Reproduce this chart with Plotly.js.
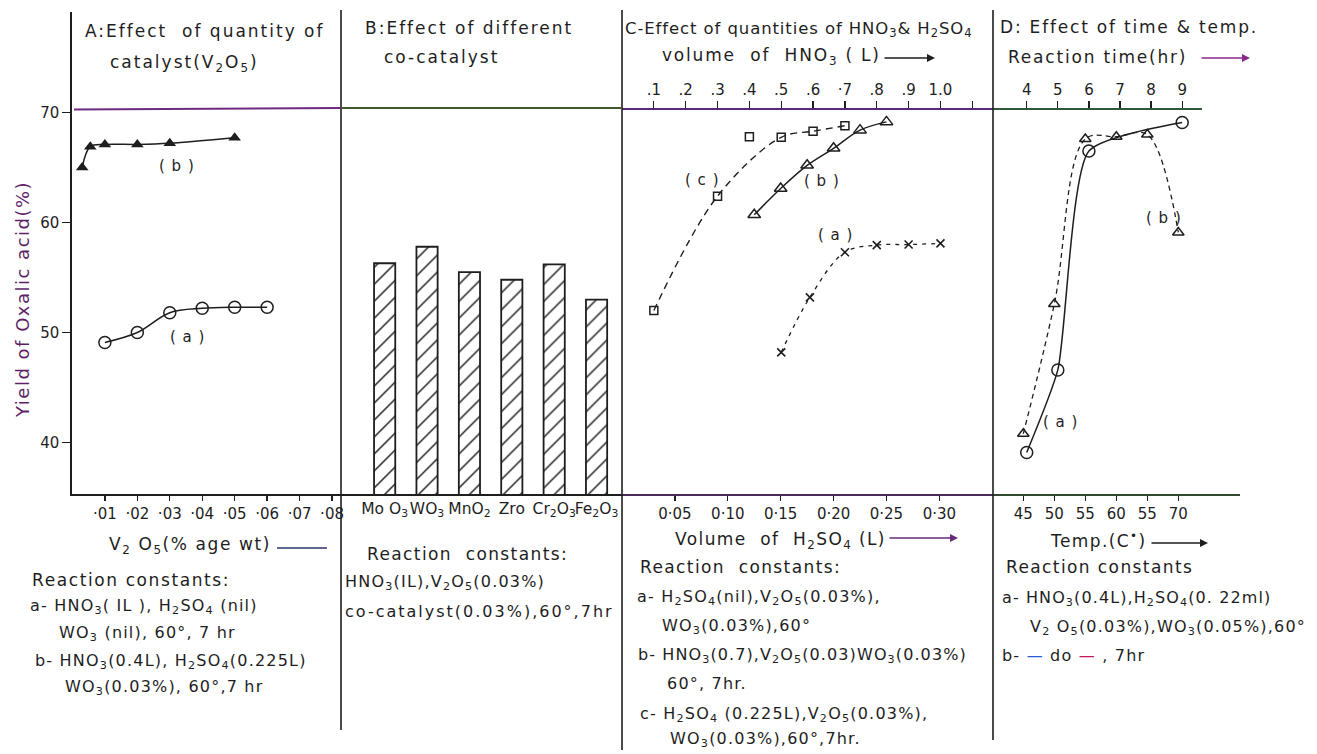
<!DOCTYPE html>
<html>
<head>
<meta charset="utf-8">
<script src="https://cdn.plot.ly/plotly-3.0.1.min.js"></script>
<style>html,body{margin:0;padding:0;background:#fff;}#chart{width:1317px;height:754px;}</style>
</head>
<body>
<div id="chart"></div>
<script>
// ---------- DATA ----------
// Panel A: effect of quantity of catalyst (V2O5, % age wt)
const aV2O5  = [0.01, 0.02, 0.03, 0.04, 0.05, 0.06];
const aYield = [49.1, 50.0, 51.8, 52.2, 52.3, 52.3];
const bV2O5  = [0.003, 0.0055, 0.01, 0.02, 0.03, 0.05];
const bYield = [65.0, 66.9, 67.1, 67.1, 67.2, 67.7];
const aTickVals = [0.01,0.02,0.03,0.04,0.05,0.06,0.07,0.08];
const aTickText = ['·01','·02','·03','·04','·05','·06','·07','·08'];

// Panel B: effect of different co-catalyst
const coCatalysts = ['Mo O<sub>3</sub>','WO<sub>3</sub>','MnO<sub>2</sub>','Zro','Cr<sub>2</sub>O<sub>3</sub>','Fe<sub>2</sub>O<sub>3</sub>'];
const coYield = [56.3, 57.8, 55.5, 54.8, 56.2, 53.0];

// Panel C: effect of quantities of HNO3 & H2SO4
const cHno3  = [0.1, 0.3, 0.4, 0.5, 0.6, 0.7];          // curve (c), vs HNO3
const cYield = [52.0, 62.4, 67.8, 67.75, 68.3, 68.8];
const cOutlierIndex = 2;                                 // point not on drawn fit
const cbH2so4 = [0.125, 0.15, 0.175, 0.20, 0.225, 0.25]; // curve (b), vs H2SO4
const cbYield = [60.7, 63.1, 65.2, 66.75, 68.4, 69.15];
const caHno3  = [0.5, 0.59, 0.7, 0.8, 0.9, 1.0];         // curve (a), vs HNO3
const caYield = [48.2, 53.2, 57.3, 57.95, 58.0, 58.1];
const hno3TickVals = [0.1,0.2,0.3,0.4,0.5,0.6,0.7,0.8,0.9,1.0,1.1];
const hno3TickText = ['.1','.2','.3','.4','.5','.6','·7','.8','.9','1.0',''];
const h2so4TickVals = [0.05,0.10,0.15,0.20,0.25,0.30];
const h2so4TickText = ['0·05','0·10','0·15','0·20','0·25','0·30'];

// Panel D: effect of time & temperature
const daTime  = [4, 5, 6, 9];                 // curve (a), vs reaction time
const daYield = [39.1, 46.6, 66.5, 69.1];
const dbTemp  = [45, 50, 55, 60, 65, 70];     // curve (b), vs temperature
const dbYield = [40.8, 52.6, 67.6, 67.8, 68.0, 59.1];
const timeTickVals = [4,5,6,7,8,9];
const timeTickText = ['4','5','6','7','8','9'];
const tempTickVals = [45,50,55,60,65,70];
const tempTickText = ['45','50','55','60','55','70'];

const yTickVals = [40,50,60,70];

// ---------- LAYOUT HELPERS ----------
const W = 1317, H = 754;
const px = x => x / W;
const py = y => 1 - y / H;
const INK = '#1e1e1e';
const FONT = 'DejaVu Sans';

const lineStyle = {color: INK, width: 1.5, shape: 'spline', smoothing: 1};

const traces = [
  // A
  {x: aV2O5, y: aYield, xaxis: 'x', yaxis: 'y', mode: 'lines+markers', line: lineStyle,
   marker: {symbol: 'circle-open', size: 12, color: INK, line: {width: 1.5, color: INK}}},
  {x: bV2O5, y: bYield, xaxis: 'x', yaxis: 'y', mode: 'lines+markers', line: lineStyle,
   marker: {symbol: 'triangle-up', size: 11, color: INK}},
  // B
  {type: 'bar', x: coCatalysts, y: coYield, xaxis: 'x2', yaxis: 'y', width: 0.5,
   marker: {color: 'white', line: {color: INK, width: 1.8},
            pattern: {shape: '/', fgcolor: INK, bgcolor: 'white', size: 12, solidity: 0.12}}},
  // C (c)
  {x: cHno3.filter((v,i) => i !== cOutlierIndex), y: cYield.filter((v,i) => i !== cOutlierIndex),
   xaxis: 'x5', yaxis: 'y', mode: 'lines',
   line: {color: INK, width: 1.4, dash: '7px,5px', shape: 'spline', smoothing: 1}},
  {x: cHno3, y: cYield, xaxis: 'x5', yaxis: 'y', mode: 'markers',
   marker: {symbol: 'square-open', size: 8, color: INK, line: {width: 1.5, color: INK}}},
  // C (b)
  {x: cbH2so4, y: cbYield, xaxis: 'x3', yaxis: 'y', mode: 'lines+markers', line: lineStyle,
   marker: {symbol: 'triangle-up-open', size: 11, color: INK, line: {width: 1.5, color: INK}}},
  // C (a)
  {x: caHno3, y: caYield, xaxis: 'x5', yaxis: 'y', mode: 'lines+markers',
   line: {color: INK, width: 1.3, dash: '4px,5px', shape: 'spline', smoothing: 1},
   marker: {symbol: 'x-thin', size: 8, color: INK, line: {width: 1.6, color: INK}}},
  // D (a)
  {x: daTime, y: daYield, xaxis: 'x6', yaxis: 'y', mode: 'lines+markers',
   line: {color: INK, width: 1.5, shape: 'spline', smoothing: 0.55},
   marker: {symbol: 'circle-open', size: 12, color: INK, line: {width: 1.5, color: INK}}},
  // D (b)
  {x: dbTemp, y: dbYield, xaxis: 'x4', yaxis: 'y', mode: 'lines+markers',
   line: {color: INK, width: 1.3, dash: '5px,4px', shape: 'spline', smoothing: 1},
   marker: {symbol: 'triangle-up-open', size: 10, color: INK, line: {width: 1.5, color: INK}}}
];

const baseAxis = {showgrid: false, zeroline: false, showline: true, linewidth: 1.6,
  linecolor: INK, ticks: 'outside', ticklen: 5, tickwidth: 1.3, tickcolor: INK,
  tickfont: {family: FONT, size: 15, color: INK}, fixedrange: true};

const yBottom = 494, yTop = 12, y70 = 108;

const layout = {
  width: W, height: H,
  margin: {l: 0, r: 0, t: 0, b: 0},
  paper_bgcolor: 'white', plot_bgcolor: 'rgba(0,0,0,0)',
  showlegend: false,
  font: {family: FONT, color: INK},
  yaxis: Object.assign({}, baseAxis, {domain: [py(yBottom), py(yTop)], range: [35.32, 79.14],
    anchor: 'x', tickvals: yTickVals, ticklen: 8}),
  xaxis: Object.assign({}, baseAxis, {domain: [px(72), px(341)], range: [-0.00013, 0.08276],
    anchor: 'y', tickmode: 'array', tickvals: aTickVals, ticktext: aTickText}),
  xaxis2: Object.assign({}, baseAxis, {domain: [px(341), px(622)], range: [-1.03, 5.6],
    anchor: 'y', type: 'category', ticks: '', tickangle: 0,
    tickfont: {family: FONT, size: 15.5, color: INK}}),
  xaxis3: Object.assign({}, baseAxis, {domain: [px(622), px(993)], range: [0, 0.3507],
    anchor: 'y', tickmode: 'array', tickvals: h2so4TickVals, ticktext: h2so4TickText, linecolor: '#4a2a5a'}),
  xaxis4: Object.assign({}, baseAxis, {domain: [px(993), px(1240)], range: [40.11, 79.95],
    anchor: 'y', tickmode: 'array', tickvals: tempTickVals, ticktext: tempTickText, linecolor: '#2f4a2f'}),
  xaxis5: Object.assign({}, baseAxis, {domain: [px(622), px(993)], range: [0, 1.165],
    anchor: 'free', position: py(y70), side: 'top', ticklen: 7,
    tickmode: 'array', tickvals: hno3TickVals, ticktext: hno3TickText, linecolor: '#5a2a7a'}),
  xaxis6: Object.assign({}, baseAxis, {domain: [px(993), px(1202)], range: [2.916, 9.637],
    anchor: 'free', position: py(y70), side: 'top', ticklen: 7,
    tickmode: 'array', tickvals: timeTickVals, ticktext: timeTickText, linecolor: '#2f5a3a'}),
  shapes: [],
  annotations: []
};

// frame lines
const vline = (x, y0, y1) => ({type: 'line', xref: 'paper', yref: 'paper',
  x0: px(x), x1: px(x), y0: py(y0), y1: py(y1), line: {color: INK, width: 1.6}});
layout.shapes.push(vline(341, 10, 730), vline(622, 10, 750), vline(993, 10, 740));
layout.shapes.push({type: 'line', xref: 'paper', yref: 'paper', x0: px(74), x1: px(341),
  y0: py(y70 + 1.5), y1: py(y70), line: {color: '#6e2a80', width: 1.8}});
layout.shapes.push({type: 'line', xref: 'paper', yref: 'paper', x0: px(341), x1: px(622),
  y0: py(y70), y1: py(y70), line: {color: '#3e5a28', width: 1.8}});
// short rule after the V2O5 axis title
layout.shapes.push({type: 'line', xref: 'paper', yref: 'paper', x0: px(277), x1: px(327),
  y0: py(548), y1: py(548), line: {color: '#2b3470', width: 1.5}});

// texts (wide hand-lettering: a little extra letter spacing)
const T = (x, y, text, size, ls) => layout.annotations.push({xref: 'paper', yref: 'paper',
  x: px(x), y: py(y), xanchor: 'left', yanchor: 'middle', showarrow: false,
  text: '<span style="letter-spacing:' + (ls === undefined ? 1.3 : ls) + 'px">' + text + '</span>',
  font: {family: FONT, size: size || 16, color: INK}});
const ARW = (x0, x1, y, color) => layout.annotations.push({xref: 'paper', yref: 'paper',
  x: px(x1), y: py(y), ax: x0 - x1, ay: 0, axref: 'pixel', ayref: 'pixel', text: '',
  showarrow: true, arrowhead: 2, arrowsize: 1, arrowwidth: 1.6, arrowcolor: color || INK});

// Panel headers
T(83, 31, 'A:Effect  of quantity of', 17, 2);
T(108, 63, 'catalyst(V<sub>2</sub>O<sub>5</sub>)', 17, 2);
T(363, 28, 'B:Effect of different', 17, 2);
T(382, 57, 'co-catalyst', 17, 2);
T(623, 30, 'C-Effect of quantities of HNO<sub>3</sub>& H<sub>2</sub>SO<sub>4</sub>', 16.5, 0.9);
T(660, 57, 'volume  of  HNO<sub>3</sub> ( L)', 17, 1.8);
ARW(883, 935, 58);
T(998, 27, 'D: Effect of time & temp.', 17, 1.8);
T(1006, 57, 'Reaction time(hr)', 17, 1.8);
ARW(1200, 1250, 58, '#8a2a8a');

// curve labels
T(157, 166, '( b )', 15, 1);
T(168, 337, '( a )', 15, 1);
T(683, 180, '( c )', 15, 1);
T(802, 181, '( b )', 15, 1);
T(816, 235, '( a )', 15, 1);
T(1144, 218, '( b )', 15, 1);
T(1041, 422, '( a )', 15, 1);

// y title
layout.annotations.push({xref: 'paper', yref: 'paper', x: px(22), y: py(300), textangle: -90,
  xanchor: 'center', yanchor: 'middle', showarrow: false,
  text: '<span style="letter-spacing:1.5px">Yield of Oxalic acid(%)</span>',
  font: {family: FONT, size: 18, color: '#5e1f66'}});

// Bottom texts A
T(107, 545, 'V<sub>2</sub> O<sub>5</sub>(% age wt)', 17, 1.6);
T(30, 580, 'Reaction constants:', 17, 1.6);
T(28, 606, 'a- HNO<sub>3</sub>( IL ), H<sub>2</sub>SO<sub>4</sub> (nil)', 16, 1.2);
T(57, 633, 'WO<sub>3</sub> (nil), 60°, 7 hr', 16, 1.2);
T(33, 661, 'b- HNO<sub>3</sub>(0.4L), H<sub>2</sub>SO<sub>4</sub>(0.225L)', 16, 1.2);
T(63, 687, 'WO<sub>3</sub>(0.03%), 60°,7 hr', 16, 1.2);
// Bottom texts B
T(365, 554, 'Reaction  constants:', 17, 1.4);
T(343, 582, 'HNO<sub>3</sub>(IL),V<sub>2</sub>O<sub>5</sub>(0.03%)', 16, 1.2);
T(343, 611, 'co-catalyst(0.03%),60°,7hr', 16, 2);
// Bottom texts C
T(673, 540, 'Volume  of  H<sub>2</sub>SO<sub>4</sub> (L)', 17, 1.4);
ARW(888, 958, 538, '#6a2a7a');
T(638, 567, 'Reaction  constants:', 17, 1.4);
T(635, 597, 'a- H<sub>2</sub>SO<sub>4</sub>(nil),V<sub>2</sub>O<sub>5</sub>(0.03%),', 16, 1.2);
T(660, 626, 'WO<sub>3</sub>(0.03%),60°', 16, 1.2);
T(636, 655, 'b- HNO<sub>3</sub>(0.7),V<sub>2</sub>O<sub>5</sub>(0.03)WO<sub>3</sub>(0.03%)', 16, 1.1);
T(665, 683, '60°, 7hr.', 16, 1.2);
T(638, 714, 'c- H<sub>2</sub>SO<sub>4</sub> (0.225L),V<sub>2</sub>O<sub>5</sub>(0.03%),', 16, 1.2);
T(668, 739, 'WO<sub>3</sub>(0.03%),60°,7hr.', 16, 1.2);
// Bottom texts D
T(1048, 540, 'Temp.(C<sup>•</sup>)', 17, 1.4);
ARW(1150, 1208, 543);
T(1004, 567, 'Reaction constants', 17, 1.4);
T(1000, 598, 'a- HNO<sub>3</sub>(0.4L),H<sub>2</sub>SO<sub>4</sub>(0. 22ml)', 16, 1.1);
T(1028, 627, 'V<sub>2</sub> O<sub>5</sub>(0.03%),WO<sub>3</sub>(0.05%),60°', 16, 1.2);
T(1000, 655, 'b- <span style="color:#2a5bd7">—</span> do <span style="color:#c2185b">—</span> , 7hr', 16, 1.2);

Plotly.newPlot('chart', traces, layout, {displayModeBar: false, staticPlot: true});
</script>
</body>
</html>
